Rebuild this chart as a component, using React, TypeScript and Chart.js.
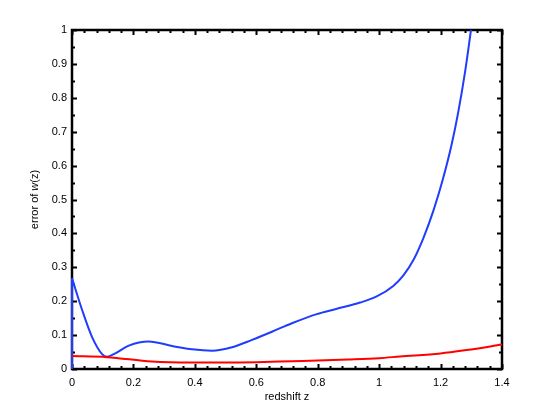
import React, { useEffect, useRef } from "react";
import { Chart, registerables } from "chart.js";

Chart.register(...registerables);

const blueZ = [0, 0, 0.033, 0.065, 0.098, 0.114, 0.141, 0.185, 0.25, 0.326, 0.391, 0.456, 0.521, 0.586, 0.651, 0.716, 0.797, 0.86, 0.938, 0.992, 1.046, 1.079, 1.112, 1.144, 1.177, 1.207, 1.236, 1.258, 1.28, 1.299];
const blueV = [0, 0.268, 0.174, 0.095, 0.044, 0.036, 0.046, 0.069, 0.081, 0.068, 0.058, 0.054, 0.064, 0.086, 0.11, 0.135, 0.162, 0.177, 0.196, 0.214, 0.245, 0.276, 0.322, 0.386, 0.468, 0.558, 0.662, 0.76, 0.878, 1.0];
const redZ = [0, 0.114, 0.26, 0.39, 0.5, 0.6, 0.716, 0.8, 0.9, 1.0, 1.068, 1.2, 1.285, 1.4];
const redV = [0.038, 0.035, 0.022, 0.019, 0.019, 0.02, 0.023, 0.025, 0.028, 0.032, 0.037, 0.046, 0.056, 0.072];

const xTicks = [0, 0.2, 0.4, 0.6, 0.8, 1, 1.2, 1.4];
const yTicks = [0, 0.1, 0.2, 0.3, 0.4, 0.5, 0.6, 0.7, 0.8, 0.9, 1];
const xTitle = "redshift z";
const yTitleParts = [
  { text: "error of ", italic: false },
  { text: "w", italic: true },
  { text: "(z)", italic: false },
];

const FONT = "'Liberation Sans', Arial, Helvetica, sans-serif";

const framePlugin = {
  id: "matlabFrame",
  beforeDatasetsDraw(chart: any) {
    const { ctx, chartArea: a, scales } = chart;
    const xs = scales.x;
    const ys = scales.y;
    ctx.save();
    ctx.strokeStyle = "#000";
    const drawTickX = (v: number, len: number) => {
      const px = Math.round(xs.getPixelForValue(v)) + 0.5;
      ctx.beginPath();
      ctx.moveTo(px, a.bottom);
      ctx.lineTo(px, a.bottom - len);
      ctx.moveTo(px, a.top);
      ctx.lineTo(px, a.top + len);
      ctx.stroke();
    };
    const drawTickY = (v: number, len: number) => {
      const py = Math.round(ys.getPixelForValue(v)) + 0.5;
      ctx.beginPath();
      ctx.moveTo(a.left, py);
      ctx.lineTo(a.left + len, py);
      ctx.moveTo(a.right, py);
      ctx.lineTo(a.right - len, py);
      ctx.stroke();
    };
    ctx.lineWidth = 2;
    for (let i = 0; i <= 35; i++) {
      if (i % 5 === 0) continue;
      drawTickX(i * 0.04, 3);
    }
    for (let i = 0; i <= 20; i++) {
      if (i % 2 === 0) continue;
      drawTickY(i * 0.05, 3);
    }
    for (const v of xTicks) drawTickX(v, 5);
    for (const v of yTicks) drawTickY(v, 5);
    ctx.lineWidth = 2.5;
    ctx.strokeRect(a.left, a.top, a.right - a.left, a.bottom - a.top);
    ctx.restore();
  },
  afterDraw(chart: any) {
    const { ctx, chartArea: a } = chart;
    ctx.save();
    ctx.fillStyle = "#000";
    ctx.textBaseline = "middle";
    ctx.textAlign = "center";
    ctx.font = `11px ${FONT}`;
    ctx.fillText(xTitle, (a.left + a.right) / 2, 397);
    ctx.translate(35, (a.top + a.bottom) / 2);
    ctx.rotate(-Math.PI / 2);
    ctx.textAlign = "left";
    let total = 0;
    const widths: number[] = [];
    for (const p of yTitleParts) {
      ctx.font = `${p.italic ? "italic " : ""}11px ${FONT}`;
      const w = ctx.measureText(p.text).width;
      widths.push(w);
      total += w;
    }
    let x = -total / 2;
    yTitleParts.forEach((p, i) => {
      ctx.font = `${p.italic ? "italic " : ""}11px ${FONT}`;
      ctx.fillText(p.text, x, 0);
      x += widths[i];
    });
    ctx.restore();
  },
};

const fmt = (v: number) => String(Number(v.toFixed(2)));

export default function App() {
  const ref = useRef<HTMLCanvasElement | null>(null);
  useEffect(() => {
    if (!ref.current) return;
    const bluePts = blueZ.map((z, i) => ({ x: z, y: blueV[i] }));
    const chart = new Chart(ref.current, {
      type: "line",
      data: {
        datasets: [
          {
            data: redZ.map((z, i) => ({ x: z, y: redV[i] })),
            borderColor: "#ff0000",
            borderWidth: 2,
            pointRadius: 0,
            cubicInterpolationMode: "monotone",
            clip: false,
          } as any,
          {
            data: bluePts.slice(0, 2),
            borderColor: "#1f3cff",
            borderWidth: 2,
            pointRadius: 0,
            tension: 0,
            clip: false,
          } as any,
          {
            data: bluePts.slice(1),
            borderColor: "#1f3cff",
            borderWidth: 2,
            pointRadius: 0,
            cubicInterpolationMode: "monotone",
            clip: false,
          } as any,
        ],
      },
      options: {
        animation: false,
        responsive: false,
        maintainAspectRatio: false,
        layout: { padding: { left: 0, top: 30, right: 52, bottom: 0 } },
        plugins: { legend: { display: false }, tooltip: { enabled: false } },
        scales: {
          x: {
            type: "linear",
            min: 0,
            max: 1.4,
            afterBuildTicks: (s: any) => {
              s.ticks = xTicks.map((v) => ({ value: v }));
            },
            afterFit: (s: any) => {
              s.height = 47;
            },
            grid: { display: false, drawTicks: false },
            border: { display: false },
            ticks: {
              padding: 7,
              color: "#000",
              font: { family: FONT, size: 11 },
              callback: (v: any) => fmt(Number(v)),
              maxRotation: 0,
              autoSkip: false,
            },
          },
          y: {
            type: "linear",
            min: 0,
            max: 1,
            afterBuildTicks: (s: any) => {
              s.ticks = yTicks.map((v) => ({ value: v }));
            },
            afterFit: (s: any) => {
              s.width = 72;
            },
            grid: { display: false, drawTicks: false },
            border: { display: false },
            ticks: {
              padding: 5,
              color: "#000",
              font: { family: FONT, size: 11 },
              callback: (v: any) => fmt(Number(v)),
              autoSkip: false,
            },
          },
        },
      },
      plugins: [framePlugin],
    } as any);
    return () => chart.destroy();
  }, []);
  return (
    <div style={{ position: "absolute", left: 0, top: 0, width: 554, height: 416, background: "#fff" }}>
      <canvas ref={ref} width={554} height={416} style={{ width: 554, height: 416, display: "block" }} />
    </div>
  );
}
